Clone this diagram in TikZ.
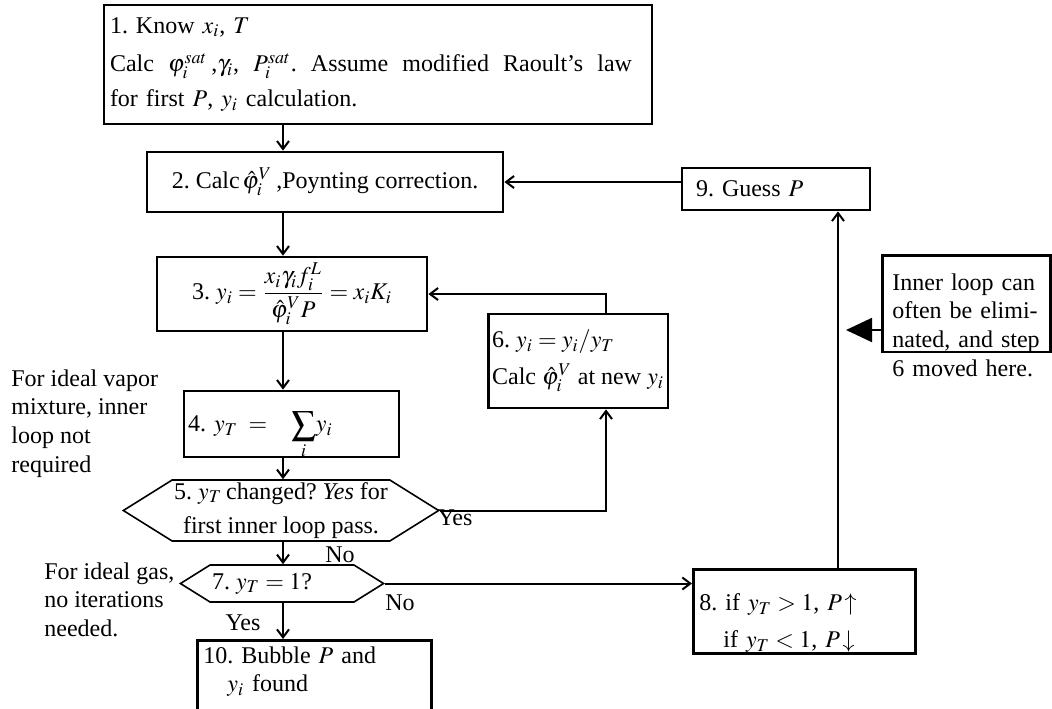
\documentclass[tikz,border=0pt]{standalone}
\usepackage{amsmath}
\usepackage{mathptmx}
\usepackage{fontspec}
\setmainfont{Liberation Serif}
\usetikzlibrary{shapes.symbols,arrows.meta}
\definecolor{flowink}{RGB}{0,0,0}
\newcommand{\phihat}{\hat{\varphi}_i^{V}}
\newcommand{\gap}{\hspace{3pt plus 1fil}}

\begin{document}
\begin{tikzpicture}[
    x=0.5pt, y=-0.5pt,
    font=\fontsize{12}{14.4}\selectfont\frenchspacing,
    stepbox/.style={rectangle, draw=flowink, line width=1.4pt, inner sep=3pt, align=left},
    testbox/.style={signal, signal to=west and east, signal pointer angle=64, draw=flowink,
                    line width=0.8pt, inner xsep=1pt, inner ysep=1pt, align=center},
    notetext/.style={inner sep=0pt, align=left, anchor=north west},
    lbl/.style={inner sep=0pt},
    arr/.style={-{Straight Barb[length=4pt,width=6pt]}, line width=1pt, flowink}
]
\useasboundingbox (0,0) rectangle (1052,708);

% main column
\node[stepbox, text width=268pt, minimum height=59.5pt] (know) at (378,64.5)
    {1. Know $x_i$, $T$\\[5pt]
     \makebox[261pt][s]{Calc\gap$\varphi_i^{sat}$\,,$\gamma_i$,\gap$P_i^{sat}$.\gap Assume\gap modified\gap Raoult's\gap law}\\[3pt]
     for first $P$, $y_i$ calculation.};
\node[stepbox, minimum width=178pt, minimum height=30pt, align=center] (poynt) at (325,182)
    {2. Calc$\,\phihat$\,,Poynting correction.};
\node[stepbox, minimum width=135pt, minimum height=36pt, align=center] (yi) at (292,294)
    {3. $y_i = \dfrac{x_i\gamma_i f_i^L}{\phihat P} = x_iK_i$};
\node[stepbox, minimum width=107.5pt, minimum height=33pt, text width=103.5pt, inner xsep=2pt] (ysum) at (291.5,424)
    {4. $y_T \;=\;\mkern10mu \smash[b]{\displaystyle\sum_i} y_i$};
\node[testbox, minimum width=157pt, minimum height=30.5pt] (changed) at (281,510.5)
    {5. $y_T$\,changed? \textit{Yes} for\\[3pt] first inner loop pass.};
\node[testbox, minimum width=96pt, minimum height=18.5pt] (unity) at (282,583.5)
    {7. $y_T = 1$?\hspace{20pt}};
\node[stepbox, text width=111pt, text depth=30pt, anchor=north west] (bubble) at (196,639)
    {10. Bubble $P$ and\\ \quad$y_i$ found};

% right side
\node[stepbox, minimum width=79pt, minimum height=47pt, inner xsep=2pt] (renorm) at (578,361)
    {6. $y_i = y_i/y_T$\\[4pt] Calc $\phihat$ at new $y_i$};
\node[stepbox, minimum width=94pt, minimum height=21pt, text width=80pt] (guess) at (776,189)
    {9. Guess $P$};
\node[stepbox, text width=105pt, minimum height=42pt, text depth=9pt, anchor=north west] (adjust) at (692,568)
    {8. if $y_T > 1$, $P\!\uparrow$\\[4pt] \quad if $y_T < 1$, $P\!\downarrow$};
\node[stepbox, text width=74pt, inner xsep=5pt, inner ysep=9pt, text depth=22pt, anchor=north west] (shortcut) at (881,254)
    {Inner loop can\\often be elimi-\\nated, and step\\6 moved here.};

% side notes
\node[notetext] (vapornote) at (11,369) {For ideal vapor\\mixture, inner\\loop not\\required};
\node[notetext] (gasnote) at (44,562) {For ideal gas,\\no iterations\\needed.};

% branch labels
\node[lbl] (yesloop) at (455,518) {Yes};
\node[lbl] (noloop) at (340,555) {No};
\node[lbl] (nounity) at (400,603) {No};
\node[lbl] (yesunity) at (243,623) {Yes};

\coordinate (spine) at (283,0);
\coordinate (loop) at (606,0);
\coordinate (riser) at (838,0);
\coordinate (tip) at (846,330);

\draw[arr] (know.south -| spine) -- (poynt.north -| spine);
\draw[arr] (poynt.south -| spine) -- (yi.north -| spine);
\draw[arr] (yi.south -| spine) -- (ysum.north -| spine);
\draw[arr] (ysum.south -| spine) -- (changed.north -| spine);
\draw[arr] (changed.south -| spine) -- (unity.north -| spine);
\draw[arr] (unity.south -| spine) -- (bubble.north -| spine);
\draw[arr] (changed.east) -| (renorm.south -| loop);
\draw[arr] (renorm.north -| loop) |- (yi.east);
\draw[arr] (unity.east) -- (unity.east -| adjust.west);
\draw[arr] (adjust.north -| riser) -- (guess.south -| riser);
\draw[arr] (guess.west |- poynt.east) -- (poynt.east);
\draw[-{Triangle[length=13pt,width=12pt]}, line width=1pt, flowink] (shortcut.west |- tip) -- (tip);
\end{tikzpicture}
\end{document}
